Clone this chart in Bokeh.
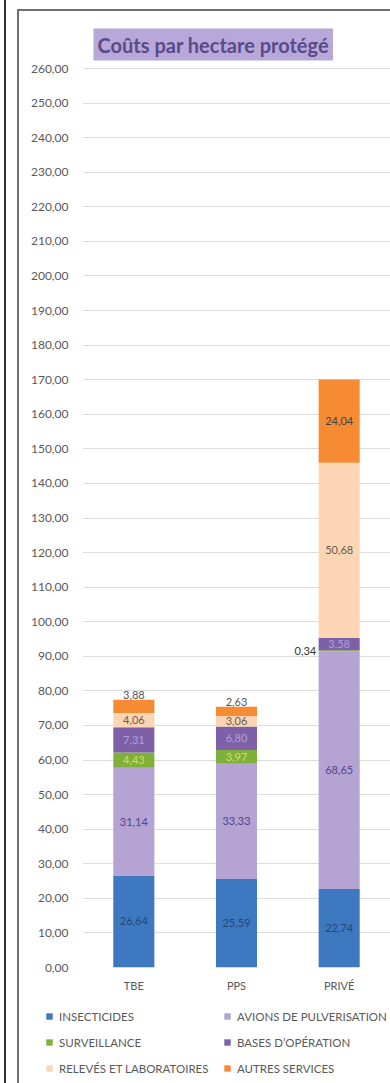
from bokeh.plotting import figure
from bokeh.layouts import column
from bokeh.models import (FactorRange, Range1d, FixedTicker, CustomJSTickFormatter,
                          ColumnDataSource, Legend, LegendItem)
from bokeh.core.properties import value
from bokeh.embed import file_html
from bokeh.resources import INLINE

categories = ["TBE", "PPS", "PRIVÉ"]
series = ["INSECTICIDES", "AVIONS DE PULVERISATION", "SURVEILLANCE",
          "BASES D’OPÉRATION", "RELEVÉS ET LABORATOIRES", "AUTRES SERVICES"]
insecticides = [26.64, 25.59, 22.74]
avions = [31.14, 33.33, 68.65]
surveillance = [4.43, 3.97, 0.34]
bases = [7.31, 6.80, 3.58]
releves = [4.06, 3.06, 50.68]
autres = [3.88, 2.63, 24.04]
y_ticks = list(range(0, 261, 10))

colors = ["#3d78c0", "#b4a3d3", "#7fb03a", "#7d60a8", "#fcd5b4", "#f68b33"]
label_colors = ["#24477a", "#56468a", "#d4dc6a", "#b0a0d8", "#6a5a50", "#444444"]
FONT = "Lato"

keys = ["s0", "s1", "s2", "s3", "s4", "s5"]
values = [insecticides, avions, surveillance, bases, releves, autres]
data = {"cat": categories}
for k, v in zip(keys, values):
    data[k] = v
src = ColumnDataSource(data)

p = figure(x_range=FactorRange(factors=categories, range_padding=0),
           y_range=Range1d(0, 260.3), width=371, height=989,
           output_backend="svg", toolbar_location=None,
           min_border_left=63, min_border_right=0, min_border_top=56,
           min_border_bottom=33, outline_line_color=None,
           background_fill_color="white", border_fill_color="white")

renderers = p.vbar_stack(keys, x="cat", width=0.4, color=colors, source=src,
                         line_color=None)

# title with highlight
p.title.text = "Coûts par hectare protégé"
p.title.align = "left"
p.title.offset = 11
p.title.vertical_align = "top"
p.title.text_font = FONT
p.title.text_font_size = "20px"
p.title.text_font_style = "bold"
p.title.text_color = "#5a4a88"
p.title.background_fill_color = "#b7a8d9"
p.title.standoff = 10
if "padding" in p.title.properties():
    p.title.padding = 4

# axes
p.yaxis.ticker = FixedTicker(ticks=y_ticks)
p.yaxis.formatter = CustomJSTickFormatter(code="return tick.toFixed(2).replace('.', ',');")
p.yaxis.axis_line_color = None
p.yaxis.major_tick_line_color = None
p.yaxis.minor_tick_line_color = None
p.yaxis.major_label_standoff = 8
p.yaxis.major_label_text_font = FONT
p.yaxis.major_label_text_font_size = "12px"
p.yaxis.major_label_text_color = "#595959"

p.xaxis.axis_line_color = None
p.xaxis.major_tick_line_color = None
p.xaxis.minor_tick_line_color = None
p.xaxis.major_label_standoff = 5
p.xaxis.major_label_text_font = FONT
p.xaxis.major_label_text_font_size = "11px"
p.xaxis.major_label_text_color = "#595959"

p.xgrid.grid_line_color = None
p.ygrid.grid_line_color = "#dcdcdc"
p.ygrid.grid_line_width = 1

# data labels
lx, ly, lt, lc, lxo, lyo, la, lb = [], [], [], [], [], [], [], []
for ci, cat in enumerate(categories):
    base = 0.0
    for si, vals in enumerate(values):
        v = vals[ci]
        txt = f"{v:.2f}".replace(".", ",")
        xo, yo, al, bl = 0, 0, "center", "middle"
        ymid = base + v / 2
        col = label_colors[si]
        if si == 5 and v < 4:          # small top segment: label above the bar
            ymid = base + v
            yo, bl = -1, "bottom"
            col = "#555555"
        if v < 1:                      # tiny segment: label left of the bar
            xo, al = -23, "right"
            col = "#333333"
        lx.append(cat); ly.append(ymid); lt.append(txt); lc.append(col)
        lxo.append(xo); lyo.append(yo); la.append(al); lb.append(bl)
        base += v

lsrc = ColumnDataSource(dict(x=lx, y=ly, t=lt, c=lc, xo=lxo, yo=lyo, a=la, b=lb))
p.text(x="x", y="y", text="t", text_color="c", x_offset="xo", y_offset="yo",
       text_align="a", text_baseline="b", source=lsrc,
       text_font=value(FONT), text_font_size="11px")

# legend strip below the chart (two columns of three entries); its bars have
# zero width and lie outside its y range, only the legend entries are visible
pl = figure(width=371, height=83, x_range=FactorRange(factors=categories),
            y_range=Range1d(500, 501),
            output_backend="svg", toolbar_location=None,
            min_border=0, outline_line_color=None,
            background_fill_color="white", border_fill_color="white")
pl.axis.visible = False
pl.grid.visible = False
leg_r = pl.vbar_stack(keys, x="cat", width=0, color=colors, source=src,
                      line_color=None)
for fig in (p, pl):
    if "frame_align" in fig.properties():
        fig.frame_align = False
for cols, xloc in [([0, 2, 4], 26), ([1, 3, 5], 204)]:
    items = [LegendItem(label=series[i], renderers=[leg_r[i]]) for i in cols]
    lg = Legend(items=items, location=(xloc, 8), orientation="vertical",
                glyph_width=8, glyph_height=8, label_height=14, spacing=12,
                label_standoff=6, padding=0, margin=0,
                border_line_color=None, background_fill_alpha=0,
                label_text_font=FONT, label_text_font_size="11.5px",
                label_text_color="#595959")
    pl.add_layout(lg, "center")

inner = column(p, pl, margin=(9, 0, 0, 11), spacing=0,
               styles={"border-left": "2px solid #707070",
                       "border-top": "2px solid #707070"})
page = column(inner, margin=(0, 0, 0, 4),
              styles={"border-left": "2px solid #333333"})

open("out.html", "w").write(file_html(page, INLINE))
